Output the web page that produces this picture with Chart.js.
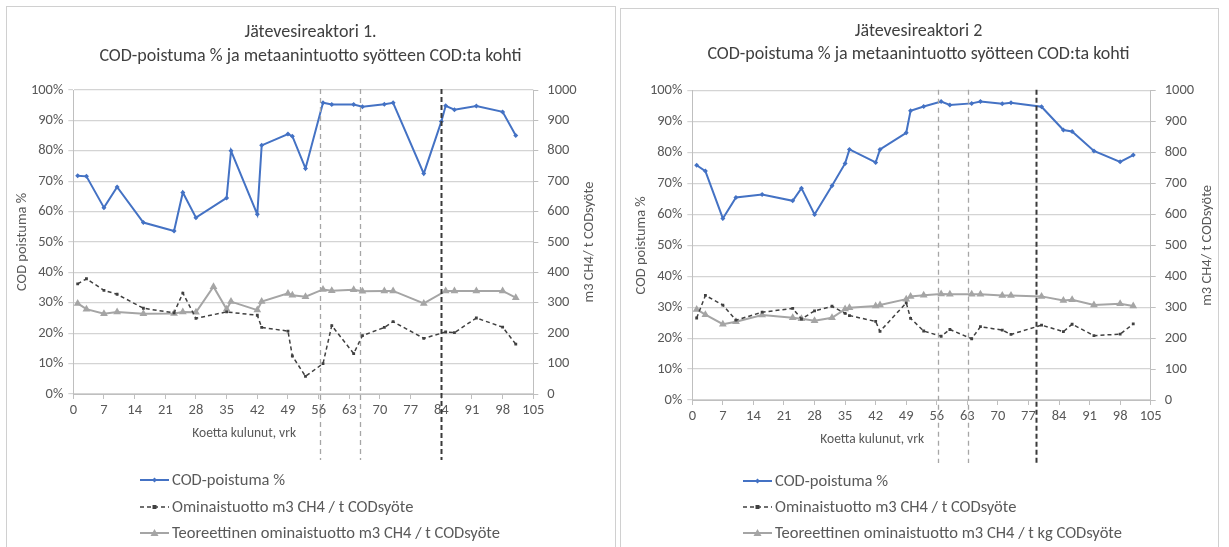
<!DOCTYPE html>
<html><head><meta charset="utf-8">
<script src="https://cdn.jsdelivr.net/npm/chart.js@4"></script>
<style>
html,body{margin:0;padding:0;background:#fff;overflow:hidden;width:1229px;height:547px}
.panel{position:absolute;box-sizing:border-box;border:1px solid #d0d0d0;background:#fff}
#p1{left:6px;top:6px;width:610px;height:560px}
#p2{left:620px;top:8px;width:599px;height:560px}
canvas{display:block}
</style></head>
<body>
<div class="panel" id="p1"><canvas id="c1" width="608" height="558"></canvas></div>
<div class="panel" id="p2"><canvas id="c2" width="597" height="558"></canvas></div>
<script>
// ---------- data: reactor 1 ----------
const r1Title = ["Jätevesireaktori 1.", "COD-poistuma % ja metaanintuotto syötteen COD:ta kohti"];
const r1CodDays = [1,3,7,10,16,23,25,28,35,36,42,43,49,50,53,57,59,64,66,71,73,80,84,85,87,92,98,101];
const r1Cod     = [71.8,71.6,61.3,68.1,56.4,53.6,66.3,58.0,64.5,80.0,59.1,81.8,85.5,84.8,74.2,95.8,95.2,95.2,94.5,95.3,95.8,72.5,89.6,94.8,93.5,94.7,92.8,85.0];
const r1Ch4Days = [1,3,7,10,16,23,25,28,35,42,43,49,50,53,57,59,64,66,71,73,80,85,87,92,98,101];
const r1Ch4     = [362,379,341,328,282,267,332,249,270,259,219,207,125,58,100,225,133,192,219,238,183,204,202,250,220,164];
const r1TeoDays = [1,3,7,10,16,23,25,28,32,35,36,42,43,49,50,53,57,59,64,66,71,73,80,85,87,92,98,101];
const r1Teo     = [298,279,264,270,264,265,270,269,353,279,304,276,304,331,325,320,344,340,343,338,339,339,298,339,339,339,339,317];
const r1GuidesLight = [56.2, 65.4];
const r1GuidesDark  = [84];
const r1Legend = ["COD-poistuma %", "Ominaistuotto m3 CH4 / t CODsyöte", "Teoreettinen ominaistuotto m3 CH4 / t CODsyöte"];

// ---------- data: reactor 2 ----------
const r2Title = ["Jätevesireaktori 2", "COD-poistuma % ja metaanintuotto syötteen COD:ta kohti"];
const r2Days = [1,3,7,10,16,23,25,28,32,35,36,42,43,49,50,53,57,59,64,66,71,73,80,85,87,92,98,101];
const r2Cod  = [75.9,74.0,58.7,65.5,66.4,64.4,68.5,60.0,69.3,76.5,81.0,76.8,81.0,86.4,93.5,94.9,96.5,95.4,95.9,96.5,95.8,96.1,94.8,87.3,86.8,80.5,77.0,79.2];
const r2Ch4  = [265,338,307,258,284,296,262,288,303,280,273,254,222,314,264,223,206,228,198,237,226,212,242,221,245,208,213,246];
const r2Teo  = [293,276,245,253,275,266,263,256,266,294,298,304,307,326,335,339,343,342,342,342,338,338,335,322,324,307,311,304];
const r2GuidesLight = [56.2, 63.1];
const r2GuidesDark  = [78.7];
const r2Legend = ["COD-poistuma %", "Ominaistuotto m3 CH4 / t CODsyöte", "Teoreettinen ominaistuotto m3 CH4 / t kg CODsyöte"];

// ---------- axis texts ----------
const xTicksMax = 105, xStep = 7;
const yLeftTitle = "COD poistuma %";
const yRightTitle = "m3 CH4/ t CODsyöte";
const xTitle = "Koetta kulunut, vrk";

const FONT = "Carlito, Calibri, Lato, sans-serif";
const TXT = "#595959";

function pts(xs, ys){ return xs.map((x,i)=>({x:x, y:ys[i]})); }

function makeChart(id, o){
  const extras = {
    id: 'extras',
    afterDatasetsDraw(chart){
      const ctx = chart.ctx, xs = chart.scales.x, ca = chart.chartArea;
      ctx.save();
      const drawGuide = (d, color, w, dash) => {
        const px = Math.round(xs.getPixelForValue(d)) + 0.5;
        ctx.strokeStyle = color; ctx.lineWidth = w; ctx.setLineDash(dash);
        ctx.beginPath(); ctx.moveTo(px, ca.top - 1); ctx.lineTo(px, o.guideBottom); ctx.stroke();
      };
      o.guidesLight.forEach(d => drawGuide(d, '#a6a6a6', 1.3, [5,4]));
      o.guidesDark.forEach(d => drawGuide(d, '#3a3a3a', 2, [5,3]));
      ctx.setLineDash([]);
      ctx.restore();
    },
    afterDraw(chart){
      const ctx = chart.ctx, xs = chart.scales.x, ca = chart.chartArea;
      ctx.save();
      ctx.fillStyle = '#404040'; ctx.textAlign = 'center'; ctx.textBaseline = 'middle';
      ctx.font = '18px ' + FONT;
      ctx.fillText(o.title[0], o.titleX, o.titleY1);
      ctx.fillText(o.title[1], o.titleX, o.titleY2);
      ctx.fillStyle = TXT; ctx.font = '13.5px ' + FONT;
      ctx.fillText(xTitle, xs.getPixelForValue(o.xTitleDay), o.xTitleY);
      const mid = (ca.top + ca.bottom) / 2;
      ctx.font = '14.5px ' + FONT;
      ctx.save(); ctx.translate(o.yTitleX, mid); ctx.rotate(-Math.PI/2); ctx.fillText(yLeftTitle, 0, 0); ctx.restore();
      ctx.save(); ctx.translate(o.y2TitleX, mid); ctx.rotate(-Math.PI/2); ctx.fillText(yRightTitle, 0, 0); ctx.restore();
      ctx.font = '16.5px ' + FONT; ctx.textAlign = 'left';
      chart.data.datasets.forEach((ds, i) => {
        const y = o.legendY[i];
        ctx.strokeStyle = ds.borderColor; ctx.lineWidth = ds.borderWidth;
        ctx.setLineDash(ds.borderDash || []);
        ctx.beginPath(); ctx.moveTo(o.legendX, y); ctx.lineTo(o.legendX + 29, y); ctx.stroke();
        ctx.setLineDash([]);
        const cx = o.legendX + 14.5;
        ctx.fillStyle = ds.pointBackgroundColor;
        ctx.beginPath();
        if (ds.pointStyle === 'triangle') { ctx.moveTo(cx, y-4); ctx.lineTo(cx+4, y+3); ctx.lineTo(cx-4, y+3); }
        else if (ds.pointStyle === 'rect') { ctx.rect(cx-2, y-2, 4, 4); }
        else { ctx.moveTo(cx, y-2.5); ctx.lineTo(cx+2.5, y); ctx.lineTo(cx, y+2.5); ctx.lineTo(cx-2.5, y); }
        ctx.closePath(); ctx.fill();
        ctx.fillStyle = TXT;
        ctx.fillText(o.legend[i], o.legendX + 32, y + 1);
      });
      ctx.restore();
    }
  };

  return new Chart(document.getElementById(id), {
    type: 'line',
    data: {
      datasets: [
        { label: o.legend[0], data: pts(o.codDays, o.cod), yAxisID: 'y',
          borderColor: '#4472C4', backgroundColor: '#4472C4', pointBackgroundColor: '#4472C4',
          borderWidth: 2, pointStyle: 'rectRot', pointRadius: 2.5, pointBorderWidth: 0, order: 0 },
        { label: o.legend[1], data: pts(o.ch4Days, o.ch4), yAxisID: 'y2',
          borderColor: '#404040', backgroundColor: '#404040', pointBackgroundColor: '#404040',
          borderWidth: 1.5, borderDash: [4,3], pointStyle: 'rect', pointRadius: 2, pointBorderWidth: 0, order: 1 },
        { label: o.legend[2], data: pts(o.teoDays, o.teo), yAxisID: 'y2',
          borderColor: '#a5a5a5', backgroundColor: '#a5a5a5', pointBackgroundColor: '#a5a5a5',
          borderWidth: 2, pointStyle: 'triangle', pointRadius: 4.5, pointBorderWidth: 0, order: 2 }
      ]
    },
    options: {
      responsive: false, animation: false,
      layout: { padding: { top: o.top, left: 0, right: 0, bottom: 0 } },
      plugins: { legend: { display: false }, tooltip: { enabled: false }, title: { display: false } },
      scales: {
        x: { type: 'linear', min: 0, max: xTicksMax,
          ticks: { stepSize: xStep, color: TXT, font: { family: FONT, size: 14.5 }, padding: 3, maxRotation: 0, autoSkip: false },
          grid: { drawOnChartArea: false, color: '#bfbfbf', tickLength: 5 },
          border: { color: '#bfbfbf' },
          afterFit: s => { s.height = o.xHeight; } },
        y: { position: 'left', min: 0, max: 100,
          ticks: { stepSize: 10, color: TXT, font: { family: FONT, size: 14.5 }, padding: 5, callback: v => v + '%' },
          grid: { color: '#d4d4d4', lineWidth: 1.2, tickLength: 5 },
          border: { color: '#bfbfbf' },
          afterFit: s => { s.width = o.yWidth; } },
        y2: { position: 'right', min: 0, max: 1000,
          ticks: { stepSize: 100, color: TXT, font: { family: FONT, size: 14.5 }, padding: 9, callback: v => String(v) },
          grid: { drawOnChartArea: false, color: '#bfbfbf', tickLength: 5 },
          border: { color: '#bfbfbf' },
          afterFit: s => { s.width = o.y2Width; } }
      }
    },
    plugins: [extras]
  });
}

// panel 1: canvas origin at page (7,7)
makeChart('c1', {
  title: r1Title, legend: r1Legend,
  codDays: r1CodDays, cod: r1Cod, ch4Days: r1Ch4Days, ch4: r1Ch4, teoDays: r1TeoDays, teo: r1Teo,
  guidesLight: r1GuidesLight, guidesDark: r1GuidesDark,
  top: 83, yWidth: 66.3, y2Width: 608 - 526.3, xHeight: 558 - 387,
  titleX: 303.5, titleY1: 25, titleY2: 49,
  xTitleDay: 39, xTitleY: 427, yTitleX: 15, y2TitleX: 582,
  guideBottom: 453,
  legendX: 133, legendY: [473, 500, 526]
});

// panel 2: canvas origin at page (621,9)
makeChart('c2', {
  title: r2Title, legend: r2Legend,
  codDays: r2Days, cod: r2Cod, ch4Days: r2Days, ch4: r2Ch4, teoDays: r2Days, teo: r2Teo,
  guidesLight: r2GuidesLight, guidesDark: r2GuidesDark,
  top: 81.7, yWidth: 71.3, y2Width: 597 - 529.7, xHeight: 558 - 391,
  titleX: 297.5, titleY1: 22, titleY2: 45,
  xTitleDay: 41.2, xTitleY: 431, yTitleX: 20, y2TitleX: 586,
  guideBottom: 454,
  legendX: 122, legendY: [472, 498, 524]
});
</script>
</body></html>
